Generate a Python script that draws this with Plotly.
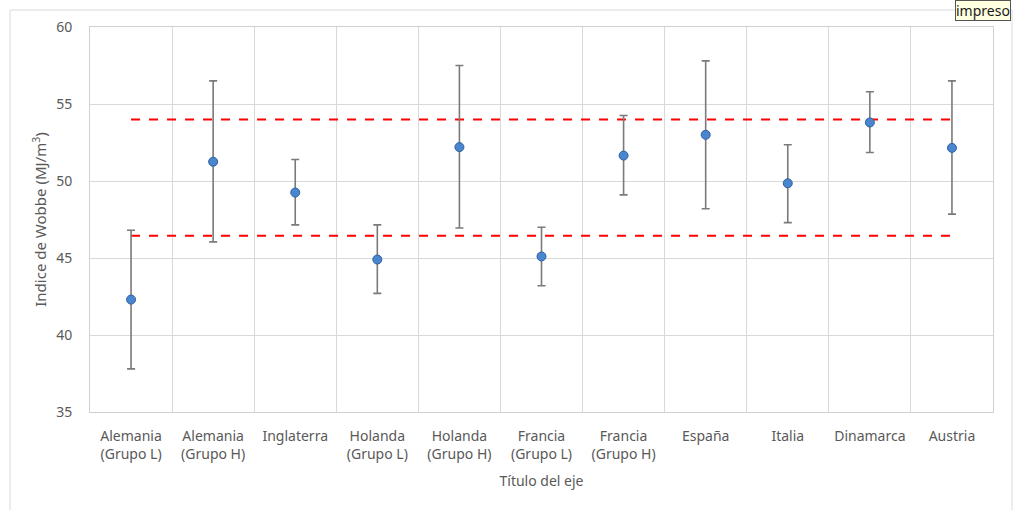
import plotly.graph_objects as go

categories = ["Alemania<br>(Grupo L)", "Alemania<br>(Grupo H)", "Inglaterra",
              "Holanda<br>(Grupo L)", "Holanda<br>(Grupo H)", "Francia<br>(Grupo L)",
              "Francia<br>(Grupo H)", "España", "Italia", "Dinamarca", "Austria"]
values = [42.3, 51.25, 49.25, 44.9, 52.2, 45.1, 51.65, 53.0, 49.85, 53.8, 52.15]
err_plus = [4.5, 5.25, 2.15, 2.25, 5.3, 1.9, 2.6, 4.8, 2.5, 2.0, 4.35]
err_minus = [4.5, 5.2, 2.1, 2.2, 5.25, 1.9, 2.55, 4.8, 2.55, 1.95, 4.3]
upper_limit = [54.0] * len(categories)
lower_limit = [46.45] * len(categories)

font = "Noto Sans"
fig = go.Figure()

fig.add_trace(go.Scatter(x=categories, y=upper_limit, mode="lines",
                         line=dict(color="#ff0000", width=2, dash="dash"),
                         hoverinfo="skip", showlegend=False))
fig.add_trace(go.Scatter(x=categories, y=lower_limit, mode="lines",
                         line=dict(color="#ff0000", width=2, dash="dash"),
                         hoverinfo="skip", showlegend=False))
fig.add_trace(go.Scatter(
    x=categories, y=values, mode="markers",
    marker=dict(size=9, color="#4a86d0", line=dict(color="#2f5f9e", width=1)),
    error_y=dict(type="data", symmetric=False, array=err_plus, arrayminus=err_minus,
                 color="#7a7a7a", thickness=1.6, width=4),
    showlegend=False))

fig.update_layout(
    width=1021, height=510,
    margin=dict(l=90, r=28, t=27, b=98),
    paper_bgcolor="white", plot_bgcolor="white",
    font=dict(family=font, size=14, color="#595959"),
    xaxis=dict(
        type="category", range=[-0.5, 10.5], tickson="boundaries",
        showgrid=True, gridcolor="#d9d9d9", gridwidth=1,
        showline=True, linecolor="#d0d0d0", mirror=True,
        ticks="", ticklabelstandoff=11, tickfont=dict(size=14, color="#595959"),
        title=dict(text="Título del eje", font=dict(size=14, color="#595959"), standoff=14),
    ),
    yaxis=dict(
        range=[35, 60], dtick=5, showgrid=True, gridcolor="#d9d9d9", gridwidth=1,
        showline=True, linecolor="#d0d0d0", mirror=True, zeroline=False,
        ticks="", ticklen=0, ticklabelstandoff=14, tickfont=dict(size=14, color="#595959"),
        title=dict(text="Indice de Wobbe (MJ/m<sup>3</sup>)",
                   font=dict(size=15, color="#595959"), standoff=5),
    ),
    shapes=[
        dict(type="rect", xref="paper", yref="paper",
             x0=(10 - 90) / 903, x1=(1012 - 90) / 903,
             y0=-0.4, y1=(412 - 10) / 385,
             line=dict(color="#d9d9d9", width=1), fillcolor="rgba(0,0,0,0)", layer="below"),
    ],
    annotations=[
        dict(text="impreso", xref="paper", yref="paper",
             x=(955 - 90) / 903, y=(412 - 0) / 385, xanchor="left", yanchor="top",
             showarrow=False, font=dict(family=font, size=14, color="#1a1a1a"),
             bgcolor="#ffffe1", bordercolor="#555555", borderwidth=1, borderpad=0),
    ],
)

fig.write_html("out.html", config={"displayModeBar": False},
               post_script="document.body.style.margin='0';document.body.style.overflow='hidden';")
